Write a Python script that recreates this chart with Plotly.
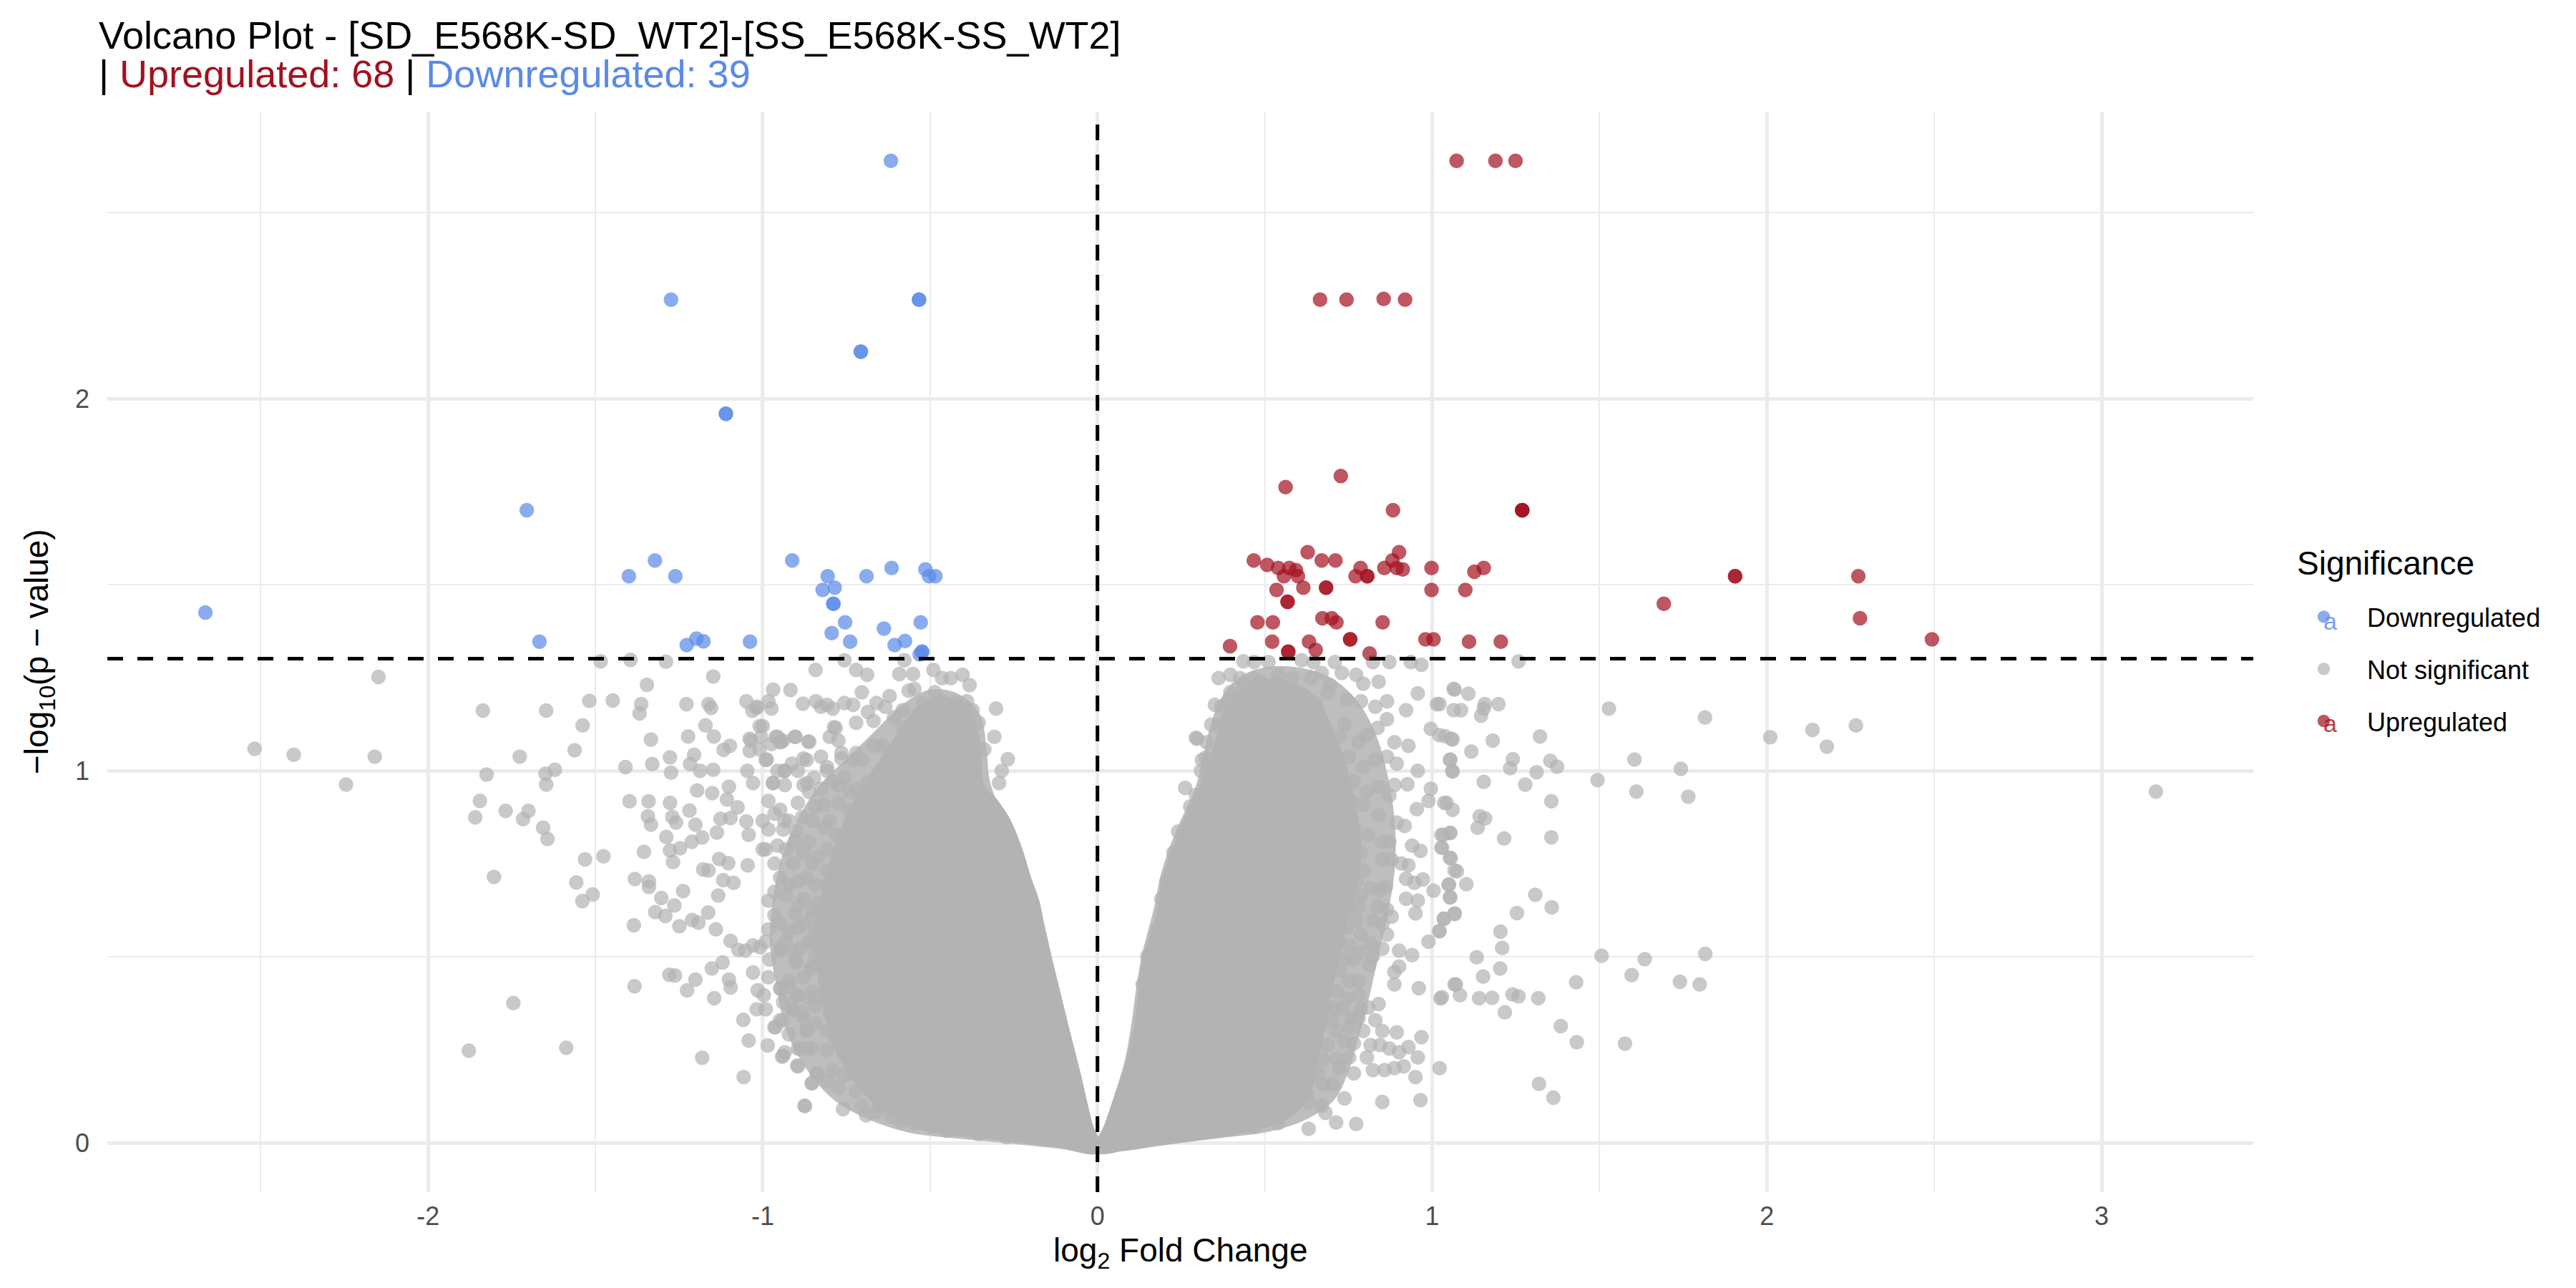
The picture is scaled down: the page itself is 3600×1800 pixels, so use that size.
import plotly.graph_objects as go

# ---------------- data ----------------
down_x = [-0.617, -1.274, -0.533, -0.533, -0.707, -0.707, -1.110, -1.110, -1.705, -1.322,
          -1.400, -1.261, -0.912, -0.806, -0.690, -0.615, -0.514, -0.503, -0.484, -0.821,
          -0.785, -0.789, -0.789, -2.665, -0.754, -0.794, -0.638, -0.528, -1.667, -1.227,
          -1.198, -1.177, -1.038, -0.739, -0.606, -0.575, -0.524, -0.524, -0.531]
down_y = [2.639, 2.266, 2.266, 2.266, 2.126, 2.126, 1.959, 1.959, 1.700, 1.565,
          1.523, 1.523, 1.565, 1.523, 1.523, 1.545, 1.541, 1.523, 1.523, 1.486,
          1.492, 1.449, 1.449, 1.425, 1.399, 1.370, 1.382, 1.399, 1.347, 1.338,
          1.355, 1.348, 1.347, 1.347, 1.338, 1.349, 1.320, 1.320, 1.313]

up_x = [1.073, 1.189, 1.249, 0.665, 0.744, 0.855, 0.919, 0.727, 0.562, 0.883,
        1.269, 1.269, 0.628, 0.901, 0.467, 0.507, 0.540, 0.573, 0.593, 0.670,
        0.711, 0.786, 0.857, 0.881, 0.894, 0.912, 0.998, 1.126, 1.154, 0.557,
        0.599, 0.771, 0.806, 0.806, 1.905, 1.905, 2.273, 0.535, 0.615, 0.683,
        0.683, 0.998, 1.099, 0.568, 0.568, 1.692, 0.478, 0.524, 0.672, 0.700,
        0.714, 0.852, 2.278, 0.396, 0.522, 0.632, 0.652, 0.755, 0.755, 0.980,
        1.004, 1.110, 1.205, 2.493, 0.570, 0.570, 0.813, 1.269]
up_y = [2.639, 2.639, 2.639, 2.266, 2.266, 2.268, 2.266, 1.792, 1.762, 1.700,
        1.700, 1.700, 1.587, 1.587, 1.565, 1.553, 1.545, 1.545, 1.539, 1.565,
        1.565, 1.545, 1.545, 1.565, 1.545, 1.541, 1.545, 1.535, 1.545, 1.523,
        1.523, 1.523, 1.523, 1.523, 1.523, 1.523, 1.523, 1.486, 1.492, 1.492,
        1.492, 1.486, 1.486, 1.454, 1.454, 1.449, 1.399, 1.399, 1.410, 1.410,
        1.399, 1.399, 1.410, 1.335, 1.347, 1.347, 1.325, 1.353, 1.353, 1.353,
        1.353, 1.347, 1.347, 1.353, 1.320, 1.320, 1.315, 1.700]

# outline of the moderately crowded zone of the not-significant cloud
halo_left_x = [0.000, -0.030, -0.070, -0.105, -0.135, -0.160, -0.190, -0.225, -0.260, -0.300,
               -0.330, -0.340, -0.360, -0.420, -0.500, -0.580, -0.660, -0.740, -0.820, -0.880,
               -0.930, -0.960, -0.970, -0.950, -0.920, -0.860, -0.780, -0.680, -0.560, -0.420,
               -0.280, -0.110, 0.000]
halo_left_y = [-0.019, 0.060, 0.190, 0.320, 0.450, 0.560, 0.660, 0.760, 0.840, 0.900,
               0.970, 1.060, 1.150, 1.200, 1.210, 1.170, 1.100, 1.030, 0.960, 0.880,
               0.780, 0.660, 0.540, 0.420, 0.300, 0.200, 0.120, 0.070, 0.035, 0.020,
               0.008, -0.008, -0.019]
halo_right_x = [0.000, 0.030, 0.060, 0.090, 0.110, 0.125, 0.140, 0.160, 0.180, 0.195,
                0.215, 0.240, 0.270, 0.300, 0.320, 0.340, 0.370, 0.420, 0.500, 0.600,
                0.700, 0.780, 0.830, 0.860, 0.880, 0.880, 0.860, 0.830, 0.800, 0.770,
                0.740, 0.700, 0.620, 0.520, 0.360, 0.190, 0.080, 0.000]
halo_right_y = [-0.019, 0.050, 0.130, 0.220, 0.320, 0.420, 0.500, 0.570, 0.640, 0.710,
                0.770, 0.830, 0.890, 0.950, 1.020, 1.100, 1.180, 1.240, 1.270, 1.270,
                1.240, 1.170, 1.080, 0.980, 0.860, 0.740, 0.620, 0.500, 0.380, 0.280,
                0.190, 0.120, 0.070, 0.040, 0.020, 0.003, -0.012, -0.019]

# dense, fully overlapped core of the not-significant cloud (outline)
core_left_x = [0.000, -0.024, -0.059, -0.094, -0.120, -0.146, -0.164, -0.181, -0.207, -0.233,
               -0.268, -0.303, -0.347, -0.355, -0.370, -0.400, -0.460, -0.530, -0.580, -0.640,
               -0.700, -0.750, -0.790, -0.820, -0.840, -0.830, -0.810, -0.780, -0.730, -0.660,
               -0.580, -0.490, -0.400, -0.286, -0.111, 0.000]
core_left_y = [-0.019, 0.053, 0.187, 0.311, 0.407, 0.502, 0.569, 0.646, 0.713, 0.789,
               0.866, 0.914, 0.962, 1.050, 1.120, 1.170, 1.190, 1.170, 1.110, 1.030,
               0.950, 0.860, 0.760, 0.660, 0.560, 0.460, 0.360, 0.260, 0.180, 0.110,
               0.060, 0.035, 0.025, 0.014, -0.005, -0.019]
core_right_x = [0.000, 0.028, 0.057, 0.092, 0.117, 0.131, 0.142, 0.163, 0.184, 0.199,
                0.216, 0.241, 0.270, 0.300, 0.330, 0.360, 0.380, 0.430, 0.500, 0.580,
                0.650, 0.700, 0.740, 0.765, 0.780, 0.770, 0.740, 0.715, 0.690, 0.670,
                0.650, 0.630, 0.580, 0.490, 0.340, 0.184, 0.078, 0.000]
core_right_y = [-0.019, 0.043, 0.120, 0.215, 0.311, 0.407, 0.493, 0.550, 0.617, 0.694,
                0.751, 0.809, 0.876, 0.930, 1.000, 1.080, 1.150, 1.210, 1.240, 1.230,
                1.190, 1.100, 1.000, 0.900, 0.800, 0.700, 0.600, 0.500, 0.400, 0.300,
                0.220, 0.140, 0.080, 0.045, 0.020, 0.000, -0.014, -0.019]

ns_x = [
    # far left
    -2.148, -2.518, -2.401, -2.159, -2.245, -1.836, -1.647, -1.518, -1.448, -1.484,
    -1.395, -1.289, -1.148, -1.346, -1.363, -1.368, -1.538, -1.562, -1.726, -1.825,
    -1.649, -1.621, -1.647, -1.410, -1.330, -1.334, -1.228, -1.223, -1.171, -1.162,
    -1.154, -1.146, -1.277, -1.274, -1.205, -1.217, -1.187, -1.148, -1.117, -1.098,
    -1.049, -1.031, -1.018, -0.969, -0.917, -0.842, -0.880, -0.841, -1.039, -1.005,
    -1.039, -0.988, -0.961, -0.944, -0.902, -0.864, -1.046, -1.029, -0.969, -0.934,
    -0.934, -0.867, -1.845, -1.768, -1.700, -1.716, -1.859, -1.656, -1.643, -1.531,
    -1.476, -1.803, -1.557, -1.508, -1.539, -1.398, -1.341, -1.277, -1.334, -1.343,
    -1.270, -1.259, -1.219, -1.201, -1.196, -1.151, -1.101, -1.107, -1.075, -1.126,
    -1.096, -1.049, -1.288, -1.247, -1.212, -1.181, -1.137, -1.355, -1.277, -1.268,
    -1.130, -1.103, -1.178, -1.162, -1.045, -1.042, -1.382, -1.340, -1.340, -1.303,
    -1.264, -1.238, -1.118, -1.087, -1.133, -1.321, -1.291, -1.385, -1.249, -1.211,
    -1.192, -1.163, -1.140, -1.096, -1.073, -1.052, -1.029, -1.008, -0.980, -1.152,
    -1.120, -1.279, -1.262, -1.201, -1.101, -1.096, -1.029, -1.383, -1.226, -1.145,
    -1.015, -0.997, -1.018, -1.058, -1.042, -0.985, -1.181, -1.057, -1.745, -1.878,
    -1.587, -0.875, -0.852, -0.838, -0.897, -0.942, -0.934, -0.889, -0.853, -0.962,
    -0.942, -0.908, -0.883, -0.868, -0.947, -0.922, -0.897, -0.859, -0.945, -0.906,
    -0.899, -0.856, -0.838, -0.861,
    # left lobe fringe
    -0.756, -0.721, -0.688, -0.592, -0.577, -0.551, -0.490, -0.464, -0.438, -0.403,
    -0.382, -0.808, -0.791, -0.756, -0.730, -0.704, -0.686, -0.660, -0.634, -0.621,
    -0.582, -0.564, -0.547, -0.521, -0.486, -0.460, -0.425, -0.390, -0.373, -0.303,
    -1.000, -0.956, -0.904, -0.861, -0.787, -0.774, -0.721, -0.669, -0.643, -0.608,
    -0.582, -0.534, -0.503, -0.460, -0.421, -0.373, -0.355, -0.308, -0.338, -0.268,
    -0.286, -0.294, -0.974, -0.991, -0.935, -0.970, -0.913, -0.869, -0.847, -0.826,
    -0.808, -0.765, -0.730, -0.704, -0.669, -0.774, -0.721, -0.686, -0.643, -0.617,
    -0.582, -0.564, -0.983, -0.948, -0.895, -0.882, -0.935, -0.983, -0.939, -0.900,
    -0.852, -0.817, -0.774, -0.739, -0.704, -0.669, -0.634, -0.817, -0.782, -0.739,
    -0.669, -0.634, -0.861, -0.904, -0.956, -0.991, -0.808, -0.765, -0.721, -0.669,
    -0.634, -0.965, -0.909, -0.852, -0.808, -0.774, -0.948, -0.895, -0.843, -0.782,
    -0.739, -0.704, -0.669, -0.983, -0.930, -0.878, -0.834, -0.791, -0.739, -0.686,
    -0.652, -0.965, -0.904, -0.852, -0.808, -0.765, -0.721, -0.678, -0.634, -0.983,
    -0.922, -0.878, -0.861, -0.817, -0.774, -0.721, -0.669, -0.634, -0.948, -0.904,
    -0.843, -0.791, -0.739, -0.686, -0.643, -0.856, -0.808, -0.747, -0.704, -0.669,
    -0.948, -0.895, -0.852, -0.817, -0.774, -0.721, -0.669, -0.913, -0.878, -0.948,
    -0.965, -0.869, -0.808, -0.756, -0.713, -0.669, -0.634, -0.939, -0.895, -0.865,
    -0.808, -0.760, -0.730, -0.695, -0.652, -0.895, -0.839, -0.791, -0.756, -0.704,
    -0.669, -0.634, -0.854, -0.686, -0.660, -0.634, -0.874, -0.760, -0.691, -0.660,
    -0.586, -0.608, -0.564, -0.530, -0.495, -0.451, -0.408, -0.355, -0.273,
    -1.017, -0.983, -0.974, -1.009, -0.939, -1.035, -1.009, -0.948, -0.826, -0.782,
    -0.800, -0.765, -0.721, -0.878, -0.826, -0.808, -0.956, -0.895, -0.878, -0.861,
    -0.791, -0.756, -0.739, -0.704, -0.669, -0.634, -0.599, -0.608, -0.652, -0.686,
    -0.721, -0.756, -0.800, -0.843, -0.922, -0.965, -1.000, -1.000, -0.930, -0.878,
    -0.834, -0.739, -0.704, -0.652, -0.634, -0.721, -0.756, -0.808, -0.869, -0.922,
    -0.965, -0.895, -0.852, -0.808, -0.765, -0.704, -0.669, -0.948, -0.895, -0.843,
    -0.791, -0.747, -0.704, -0.652, -0.991, -0.930, -0.887, -0.791, -0.756, -0.704,
    -0.660, -0.808, -0.756, -0.721, -0.669, -0.634, -0.878, -0.922, -0.983, -0.782,
    -0.730, -0.686, -0.643, -0.843, -0.800, -0.747, -0.695, -0.652, -0.939, -0.991,
    -0.922, -0.843, -0.782, -0.721, -0.652, -0.634, -0.686, -0.730, -0.808, -0.774,
    -0.721, -0.652, -0.704, -0.617, -0.547,
    # right lobe fringe
    0.436, 0.468, 0.511, 0.610, 0.645, 0.709, 0.823, 0.872, 0.936, 0.968,
    0.362, 0.397, 0.436, 0.486, 0.539, 0.582, 0.638, 0.670, 0.695, 0.730,
    0.773, 0.794, 0.840, 0.957, 1.064, 0.351, 0.390, 0.433, 0.496, 0.539,
    0.596, 0.652, 0.688, 0.745, 0.787, 0.830, 0.865, 0.922, 1.014, 1.064,
    0.294, 0.326, 0.323, 0.362, 0.397, 0.468, 0.511, 0.574, 0.624, 0.681,
    0.723, 0.738, 0.780, 0.805, 0.837, 0.865, 0.887, 0.929, 0.996, 1.021,
    1.057, 0.752, 0.794, 0.830, 0.865, 0.894, 0.957, 1.053, 1.060, 0.309,
    0.262, 0.294, 0.766, 0.805, 0.840, 0.887, 0.926, 0.996, 0.713, 0.759,
    0.794, 0.840, 0.872, 0.954, 0.989, 1.043, 0.716, 0.766, 0.809, 0.894,
    0.918, 0.681, 0.723, 0.787, 0.851, 0.872, 0.940, 0.965, 1.028, 1.053,
    1.028, 0.851, 0.879, 0.908, 0.929, 1.053, 1.067, 0.681, 0.738, 0.773,
    0.816, 0.844, 0.862, 0.922, 0.947, 0.972, 1.004, 1.050, 1.053, 0.709,
    0.752, 0.780, 0.837, 0.865, 0.879, 0.922, 0.957, 0.950, 1.035, 1.067,
    0.823, 0.851, 0.695, 0.745, 0.865, 0.989, 1.021, 0.816, 0.723, 0.752,
    0.901, 0.940, 0.784, 0.812, 0.738, 0.723, 0.887, 0.901, 0.681, 0.752,
    0.780, 0.887, 0.960, 1.067, 1.025, 0.631, 0.652, 0.716, 0.638, 0.681,
    0.709, 0.809, 0.840, 0.652, 0.674, 0.702, 0.759, 0.780, 0.830, 0.713,
    0.752, 0.894, 0.968, 0.631, 0.652, 0.738, 0.766, 0.816, 0.844, 0.872,
    0.929, 0.582, 0.610, 0.674, 0.716, 0.752, 0.805, 0.957, 0.723, 0.823,
    0.858, 0.887, 0.915, 0.950, 0.589, 0.631, 0.674, 0.702, 0.560, 0.596,
    0.624, 0.670, 0.681, 0.851, 0.965, 0.631, 0.713, 0.773, 0.468, 0.525,
    0.397,
    0.652, 0.638, 0.674, 0.709, 0.681, 0.667, 0.702, 0.738, 0.681, 0.709,
    0.752, 0.738, 0.695, 0.723, 0.766, 0.794, 0.709, 0.745, 0.787, 0.688,
    0.723, 0.773, 0.667, 0.709, 0.787, 0.681, 0.652, 0.702, 0.766, 0.638,
    0.695, 0.823, 0.851, 0.610, 0.667, 0.745, 0.780, 0.624, 0.731, 0.787,
    0.610, 0.652, 0.794, 0.851, 0.596, 0.688, 0.901, 0.574, 0.617, 0.660,
    0.766, 0.539, 0.582, 0.631, 0.738, 0.468, 0.418, 0.539,
    0.298, 0.340, 0.369, 0.397, 0.426, 0.468, 0.312, 0.340, 0.277, 0.241,
    0.227, 0.206, 0.191, 0.177, 0.149, 0.135,
    # far right
    1.528, 1.815, 2.010, 2.136, 2.266, 2.179, 1.604, 1.743, 1.494, 1.610,
    1.765, 3.162, 1.506, 1.635, 1.816, 1.596, 1.740, 1.799, 1.430, 1.576,
    1.384, 1.432, 1.319, 1.362, 1.022, 1.258, 1.067, 1.108, 1.157, 1.198,
    1.086, 1.146, 1.154, 1.022, 1.322, 1.181, 1.061, 1.038, 1.117, 1.054,
    1.241, 1.233, 1.353, 1.373, 1.312, 1.061, 1.154, 1.278, 1.356, 1.036,
    1.061, 1.142, 1.158, 1.136, 1.033, 1.054, 1.215, 1.356, 1.029, 1.055,
    1.074, 1.049, 1.102, 1.054, 1.308, 1.357, 1.253, 1.067, 1.035, 1.022,
    1.204, 1.209, 1.133, 1.203, 1.152, 1.071, 1.083, 1.029, 1.140, 1.179,
    1.240, 1.258, 1.317, 1.217,
]
ns_y = [
    # far left
    1.252, 1.059, 1.043, 1.038, 0.963, 1.162, 1.162, 1.188, 1.189, 1.294,
    1.298, 1.293, 1.253, 1.231, 1.179, 1.154, 1.122, 1.055, 1.038, 0.990,
    0.992, 1.003, 0.963, 1.010, 1.018, 1.084, 1.179, 1.092, 1.122, 1.179,
    1.169, 1.092, 1.036, 0.995, 1.043, 1.018, 1.000, 1.003, 1.056, 1.067,
    1.187, 1.161, 1.169, 1.218, 1.217, 1.271, 1.180, 1.187, 1.086, 1.091,
    1.053, 1.030, 1.091, 1.078, 1.091, 1.078, 1.000, 0.967, 0.967, 1.000,
    0.962, 0.967, 0.919, 0.892, 0.892, 0.870, 0.875, 0.847, 0.817, 0.762,
    0.770, 0.715, 0.700, 0.668, 0.650, 0.918, 0.918, 0.914, 0.855, 0.878,
    0.876, 0.861, 0.893, 0.855, 0.947, 0.940, 0.957, 0.923, 0.902, 0.871,
    0.873, 0.864, 0.822, 0.792, 0.809, 0.821, 0.834, 0.782, 0.786, 0.755,
    0.763, 0.752, 0.735, 0.732, 0.746, 0.828, 0.709, 0.703, 0.688, 0.658,
    0.638, 0.677, 0.706, 0.699, 0.665, 0.620, 0.610, 0.585, 0.582, 0.599,
    0.592, 0.619, 0.574, 0.543, 0.519, 0.517, 0.531, 0.526, 0.493, 0.469,
    0.485, 0.452, 0.450, 0.439, 0.439, 0.418, 0.458, 0.421, 0.410, 0.389,
    0.410, 0.397, 0.359, 0.331, 0.275, 0.262, 0.229, 0.177, 0.376, 0.248,
    0.256, 0.100, 0.161, 0.186, 0.208, 0.232, 0.244, 0.253, 0.254, 0.311,
    0.328, 0.357, 0.352, 0.303, 0.414, 0.419, 0.395, 0.388, 0.517, 0.514,
    0.486, 0.469, 0.478, 0.536,
    # left lobe fringe
    1.297, 1.271, 1.258, 1.260, 1.297, 1.260, 1.271, 1.249, 1.249, 1.258,
    1.230, 1.177, 1.167, 1.182, 1.177, 1.211, 1.158, 1.182, 1.172, 1.201,
    1.163, 1.215, 1.220, 1.182, 1.211, 1.187, 1.182, 1.187, 1.163, 1.167,
    1.120, 1.091, 1.091, 1.078, 1.117, 1.081, 1.129, 1.134, 1.067, 1.144,
    1.115, 1.120, 1.120, 1.091, 1.124, 1.086, 1.129, 1.091, 1.057, 1.031,
    1.000, 0.967, 1.072, 1.029, 1.000, 0.967, 1.019, 1.029, 0.981, 0.952,
    1.000, 1.033, 1.029, 1.029, 1.067, 0.962, 0.952, 0.971, 1.005, 0.943,
    0.962, 0.914, 0.919, 0.895, 0.914, 0.876, 0.866, 0.842, 0.842, 0.837,
    0.866, 0.909, 0.914, 0.895, 0.890, 0.919, 0.904, 0.847, 0.828, 0.856,
    0.847, 0.866, 0.809, 0.809, 0.799, 0.789, 0.789, 0.780, 0.770, 0.789,
    0.799, 0.751, 0.751, 0.751, 0.732, 0.751, 0.713, 0.703, 0.694, 0.703,
    0.694, 0.713, 0.732, 0.651, 0.665, 0.656, 0.646, 0.656, 0.636, 0.656,
    0.675, 0.612, 0.617, 0.608, 0.598, 0.608, 0.598, 0.617, 0.627, 0.574,
    0.569, 0.589, 0.541, 0.550, 0.541, 0.550, 0.541, 0.569, 0.522, 0.488,
    0.502, 0.493, 0.502, 0.474, 0.483, 0.469, 0.440, 0.431, 0.416, 0.421,
    0.416, 0.397, 0.407, 0.388, 0.368, 0.359, 0.368, 0.359, 0.335, 0.330,
    0.311, 0.301, 0.301, 0.292, 0.311, 0.282, 0.311, 0.234, 0.254, 0.254,
    0.249, 0.249, 0.234, 0.230, 0.234, 0.206, 0.187, 0.196, 0.182, 0.201,
    0.177, 0.172, 0.160, 0.153, 0.129, 0.120, 0.099, 0.091, 0.074, 0.083,
    0.056, 0.100, 0.081, 0.067, 0.043, 0.033, 0.038, 0.024, 0.016,
    1.172, 1.187, 1.167, 1.120, 1.081, 1.081, 1.057, 1.077, 1.172, 1.115,
    1.091, 1.048, 1.048, 1.033, 1.038, 1.010, 1.000, 1.000, 0.962, 0.943,
    0.971, 0.981, 0.943, 0.923, 0.943, 0.962, 0.923, 0.885, 0.885, 0.866,
    0.847, 0.828, 0.866, 0.904, 0.866, 0.885, 0.866, 0.789, 0.789, 0.780,
    0.770, 0.809, 0.789, 0.751, 0.732, 0.732, 0.713, 0.694, 0.713, 0.694,
    0.675, 0.636, 0.627, 0.636, 0.656, 0.636, 0.617, 0.589, 0.579, 0.569,
    0.569, 0.579, 0.569, 0.579, 0.541, 0.541, 0.522, 0.522, 0.531, 0.522,
    0.512, 0.474, 0.464, 0.455, 0.464, 0.445, 0.445, 0.435, 0.445, 0.407,
    0.397, 0.397, 0.388, 0.368, 0.349, 0.340, 0.349, 0.340, 0.378, 0.359,
    0.292, 0.321, 0.282, 0.273, 0.263, 0.215, 0.196, 0.187, 0.167, 0.148,
    0.139, 0.100, 0.100, 0.072, 0.053,
    # right lobe fringe
    1.294, 1.292, 1.292, 1.297, 1.292, 1.292, 1.292, 1.292, 1.292, 1.285,
    1.249, 1.258, 1.230, 1.239, 1.258, 1.249, 1.249, 1.263, 1.230, 1.263,
    1.258, 1.234, 1.239, 1.208, 1.220, 1.177, 1.187, 1.191, 1.206, 1.191,
    1.206, 1.182, 1.210, 1.191, 1.187, 1.172, 1.187, 1.163, 1.179, 1.163,
    1.089, 1.077, 1.035, 1.124, 1.134, 1.115, 1.086, 1.134, 1.115, 1.077,
    1.091, 1.124, 1.077, 1.096, 1.115, 1.139, 1.077, 1.067, 1.113, 1.096,
    1.086, 1.038, 1.010, 1.029, 1.038, 1.019, 1.000, 1.029, 1.000, 1.000,
    0.954, 0.935, 0.971, 0.943, 0.957, 0.962, 0.964, 0.952, 0.933, 0.919,
    0.909, 0.880, 0.933, 0.897, 0.919, 0.914, 0.866, 0.842, 0.828, 0.861,
    0.852, 0.809, 0.789, 0.780, 0.809, 0.809, 0.799, 0.785, 0.828, 0.833,
    0.794, 0.761, 0.761, 0.751, 0.746, 0.766, 0.732, 0.742, 0.713, 0.703,
    0.684, 0.679, 0.689, 0.710, 0.699, 0.708, 0.678, 0.694, 0.660, 0.656,
    0.627, 0.636, 0.636, 0.627, 0.608, 0.656, 0.651, 0.617, 0.603, 0.617,
    0.598, 0.589, 0.569, 0.579, 0.560, 0.541, 0.569, 0.536, 0.541, 0.531,
    0.517, 0.505, 0.512, 0.478, 0.493, 0.464, 0.459, 0.474, 0.450, 0.435,
    0.435, 0.426, 0.416, 0.426, 0.388, 0.426, 0.435, 0.407, 0.392, 0.368,
    0.364, 0.364, 0.373, 0.359, 0.321, 0.330, 0.335, 0.335, 0.330, 0.301,
    0.311, 0.297, 0.284, 0.282, 0.268, 0.273, 0.268, 0.263, 0.263, 0.254,
    0.258, 0.249, 0.234, 0.225, 0.225, 0.230, 0.230, 0.230, 0.201, 0.196,
    0.196, 0.201, 0.206, 0.177, 0.206, 0.167, 0.158, 0.158, 0.139, 0.129,
    0.134, 0.100, 0.081, 0.110, 0.115, 0.038, 0.055, 0.051, 0.043, 0.077,
    0.062,
    1.077, 1.029, 1.000, 0.981, 0.943, 0.904, 0.885, 0.866, 0.847, 0.828,
    0.809, 0.770, 0.751, 0.732, 0.742, 0.732, 0.694, 0.675, 0.665, 0.636,
    0.608, 0.598, 0.579, 0.560, 0.560, 0.522, 0.502, 0.512, 0.493, 0.464,
    0.474, 0.502, 0.522, 0.407, 0.397, 0.388, 0.397, 0.349, 0.359, 0.359,
    0.311, 0.301, 0.301, 0.301, 0.273, 0.263, 0.244, 0.187, 0.196, 0.187,
    0.187, 0.110, 0.100, 0.110, 0.120, 0.091, 0.053, 0.053,
    1.086, 1.124, 1.172, 1.211, 1.249, 1.249, 1.029, 0.981, 0.904, 0.837,
    0.780, 0.703, 0.656, 0.569, 0.502, 0.426,
    # far right
    1.167, 1.143, 1.090, 1.110, 1.122, 1.065, 1.030, 1.005, 0.975, 0.944,
    0.930, 0.944, 0.503, 0.494, 0.508, 0.451, 0.433, 0.426, 0.432, 0.267,
    0.314, 0.271, 0.159, 0.122, 0.201, 1.294, 1.218, 1.207, 1.179, 1.179,
    1.163, 1.148, 1.167, 1.179, 1.092, 1.081, 1.084, 1.093, 1.052, 1.030,
    1.031, 1.007, 1.027, 1.011, 0.996, 0.998, 0.970, 0.963, 0.918, 0.914,
    0.895, 0.878, 0.872, 0.847, 0.828, 0.833, 0.818, 0.821, 0.793, 0.766,
    0.730, 0.694, 0.695, 0.660, 0.667, 0.633, 0.618, 0.615, 0.602, 0.569,
    0.568, 0.524, 0.499, 0.469, 0.447, 0.426, 0.397, 0.392, 0.389, 0.390,
    0.399, 0.394, 0.389, 0.351,
]

x_tick_vals = [-2, -1, 0, 1, 2, 3]
x_tick_text = ["-2", "-1", "0", "1", "2", "3"]
y_tick_vals = [0, 1, 2]
y_tick_text = ["0", "1", "2"]

fc_cut = 0
p_cut = 1.30103   # -log10(0.05)

n_up = 68
n_down = 39

# ---------------- style ----------------
BLUE = "#5A8AE8"
RED = "#A3111F"
GREY = "#B3B3B3"
GREY_LIGHT = "#BEBEBE"
FONT = "Liberation Sans, Arial, Helvetica, sans-serif"
MS = 19

W, H = 3600, 1800
L, R, T, B = 142, 459, 148, 142

fig = go.Figure()

# crowded zone and dense core of the grey cloud
for cx, cy, col in [(halo_left_x, halo_left_y, GREY_LIGHT), (halo_right_x, halo_right_y, GREY_LIGHT),
                    (core_left_x, core_left_y, GREY), (core_right_x, core_right_y, GREY)]:
    fig.add_trace(go.Scatter(x=cx, y=cy, mode="lines", fill="toself",
                             fillcolor=col, line=dict(color=col, width=8, shape="spline"),
                             hoverinfo="skip", showlegend=False))

fig.add_trace(go.Scatter(
    x=ns_x, y=ns_y, mode="markers", name="Not significant",
    legendgroup="b", legendrank=2,
    marker=dict(color=GREY, size=MS, opacity=0.7, line=dict(color=GREY, width=1.5))))
fig.add_trace(go.Scatter(
    x=down_x, y=down_y, mode="markers", name="Downregulated",
    legendgroup="a", legendrank=1,
    marker=dict(color=BLUE, size=MS, opacity=0.7, line=dict(color=BLUE, width=1.5))))
fig.add_trace(go.Scatter(
    x=up_x, y=up_y, mode="markers", name="Upregulated",
    legendgroup="c", legendrank=3,
    marker=dict(color=RED, size=MS, opacity=0.7, line=dict(color=RED, width=1.5))))

# threshold lines
fig.add_vline(x=fc_cut, line=dict(color="black", width=5, dash="22px,20px"))
fig.add_hline(y=p_cut, line=dict(color="black", width=5, dash="22px,20px"))

axis_common = dict(
    showline=False, zeroline=False, showgrid=True,
    gridcolor="#EBEBEB", gridwidth=4.5,
    ticks="", tickfont=dict(family=FONT, size=36, color="#4D4D4D"),
)
fig.update_xaxes(range=[-2.958, 3.453], tickvals=x_tick_vals, ticktext=x_tick_text,
                 minor=dict(dtick=0.5, tick0=0, showgrid=True, gridcolor="#EBEBEB", gridwidth=2.3),
                 ticklabelstandoff=9, **axis_common)
fig.update_yaxes(range=[-0.132, 2.771], tickvals=y_tick_vals, ticktext=y_tick_text,
                 minor=dict(dtick=0.5, tick0=0, showgrid=True, gridcolor="#EBEBEB", gridwidth=2.3),
                 ticklabelstandoff=24, **axis_common)

def py(Y):
    return (H - B - Y) / (H - T - B)

def px_(X):
    return (X - L) / (W - L - R)

annotations = [
    dict(text="Volcano Plot - [SD_E568K-SD_WT2]-[SS_E568K-SS_WT2]",
         x=px_(128), y=py(41), xanchor="left", yanchor="middle",
         font=dict(family=FONT, size=54, color="black")),
    dict(text=(f"| <span style='color:{RED}'>Upregulated: {n_up}</span> | "
               f"<span style='color:{BLUE}'>Downregulated: {n_down}</span>"),
         x=px_(128), y=py(95), xanchor="left", yanchor="middle",
         font=dict(family=FONT, size=54, color="black")),
    dict(text="log<sub>2</sub> Fold Change", x=0.5, y=py(1742),
         xanchor="center", yanchor="middle",
         font=dict(family=FONT, size=46, color="black")),
    dict(text="−log<sub>10</sub>(p − value)", x=px_(46), y=0.5, textangle=-90,
         xanchor="center", yanchor="middle",
         font=dict(family=FONT, size=46, color="black")),
    dict(text="Significance", x=px_(3200), y=py(779), xanchor="left", yanchor="middle",
         font=dict(family=FONT, size=46, color="black")),
    # text-layer glyphs shown on the legend keys
    dict(text="a", x=px_(3248), y=py(860), xanchor="center", yanchor="middle",
         font=dict(family=FONT, size=34, color=BLUE), opacity=0.8),
    dict(text="a", x=px_(3248), y=py(1003), xanchor="center", yanchor="middle",
         font=dict(family=FONT, size=34, color=RED), opacity=0.8),
]
for a in annotations:
    a.update(xref="paper", yref="paper", showarrow=False)

fig.update_layout(
    width=W, height=H,
    margin=dict(l=L, r=R, t=T, b=B, autoexpand=False),
    paper_bgcolor="white", plot_bgcolor="white",
    font=dict(family=FONT),
    annotations=annotations,
    showlegend=True,
    legend=dict(
        font=dict(family=FONT, size=36, color="black"),
        x=px_(3179), y=py(824), xanchor="left", yanchor="top",
        tracegroupgap=23, itemwidth=111, bgcolor="rgba(0,0,0,0)",
        traceorder="grouped",
    ),
)

fig.write_html("out.html")
